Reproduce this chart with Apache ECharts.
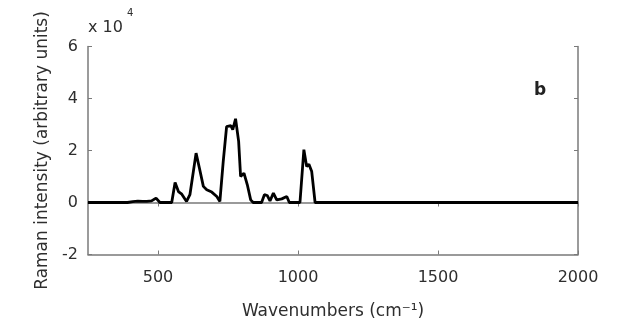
<!DOCTYPE html>
<html>
<head>
<meta charset="utf-8">
<script src="https://cdn.jsdelivr.net/npm/echarts@6/dist/echarts.min.js"></script>
<style>html,body{margin:0;padding:0;background:#fff}#c{width:623px;height:331px}</style>
</head>
<body>
<div id="c"></div>
<script>
// Wavenumbers (cm^-1)
var wavenumbers = [250, 391, 410, 428, 445, 460, 477, 493, 507, 549, 561, 573, 585, 602, 614, 636, 648, 662, 674, 692, 710, 721, 733, 745, 760, 767, 777, 788, 795, 807, 819, 831, 840, 870, 880, 890, 900, 912, 924, 942, 960, 969, 1007, 1021, 1031, 1039, 1049, 1061, 2000];
// Raman intensity (x 10^4)
var intensity = [0, 0, 0.03, 0.05, 0.04, 0.04, 0.06, 0.17, 0, 0, 0.77, 0.42, 0.32, 0.04, 0.3, 1.9, 1.32, 0.62, 0.49, 0.4, 0.23, 0.04, 1.58, 2.92, 2.96, 2.8, 3.22, 2.35, 1.0, 1.13, 0.68, 0.1, 0, 0, 0.3, 0.27, 0.06, 0.36, 0.1, 0.14, 0.23, 0, 0, 2.03, 1.38, 1.47, 1.19, 0, 0];
var xTicks = [500, 1000, 1500, 2000];
var yTicks = [-2, 0, 2, 4, 6];

var pts = wavenumbers.map(function (w, i) { return [w, intensity[i]]; });
var font = '"DejaVu Sans", sans-serif';
var txt = '#2e2e2e';
var axisCol = '#7a7a7a';

var chart = echarts.init(document.getElementById('c'));
chart.setOption({
  animation: false,
  backgroundColor: '#ffffff',
  grid: { left: 88, right: 45, top: 46.5, bottom: 76.5 },
  xAxis: [{
    type: 'value', min: 250, max: 2000,
    name: 'Wavenumbers (cm\u207B\u00B9)', nameLocation: 'middle', nameGap: 49,
    nameTextStyle: { color: txt, fontFamily: font, fontSize: 17 },
    axisLine: { onZero: false, lineStyle: { color: axisCol, width: 1.5 } },
    axisTick: { inside: true, length: 4, customValues: xTicks, lineStyle: { color: axisCol } },
    axisLabel: { customValues: xTicks, color: txt, fontFamily: font, fontSize: 16, margin: 15,
      formatter: function (v) { return String(v); } },
    splitLine: { show: false }
  }, {
    type: 'value', min: 250, max: 2000, position: 'top',
    axisLine: { show: true, lineStyle: { color: axisCol, width: 1.5 } },
    axisTick: { inside: true, length: 4, customValues: xTicks, lineStyle: { color: axisCol } },
    axisLabel: { show: false }, splitLine: { show: false }
  }],
  yAxis: [{
    type: 'value', min: -2, max: 6, interval: 2,
    name: 'Raman intensity (arbitrary units)', nameLocation: 'middle', nameGap: 37,
    nameTextStyle: { color: txt, fontFamily: font, fontSize: 17 },
    axisLine: { show: true, lineStyle: { color: axisCol, width: 1.5 } },
    axisTick: { inside: true, length: 4, lineStyle: { color: axisCol } },
    axisLabel: { color: txt, fontFamily: font, fontSize: 16, margin: 10,
      formatter: function (v) { return String(v); } },
    splitLine: { show: false }
  }, {
    type: 'value', min: -2, max: 6, interval: 2, position: 'right',
    axisLine: { show: true, lineStyle: { color: axisCol, width: 1.5 } },
    axisTick: { inside: true, length: 4, lineStyle: { color: axisCol } },
    axisLabel: { show: false }, splitLine: { show: false }
  }],
  graphic: [{
    type: 'text', left: 88, top: 20,
    style: { text: 'x 10', fill: txt, font: '16px ' + font }
  }, {
    type: 'text', left: 127, top: 8,
    style: { text: '4', fill: txt, font: '10px ' + font }
  }, {
    type: 'text', left: 534, top: 82,
    style: { text: 'b', fill: '#222', font: 'bold 17px ' + font }
  }],
  series: [{
    type: 'line', xAxisIndex: 0, yAxisIndex: 0,
    data: pts, symbol: 'none', smooth: false,
    lineStyle: { color: '#000', width: 2.8 }
  }]
});
</script>
</body>
</html>
